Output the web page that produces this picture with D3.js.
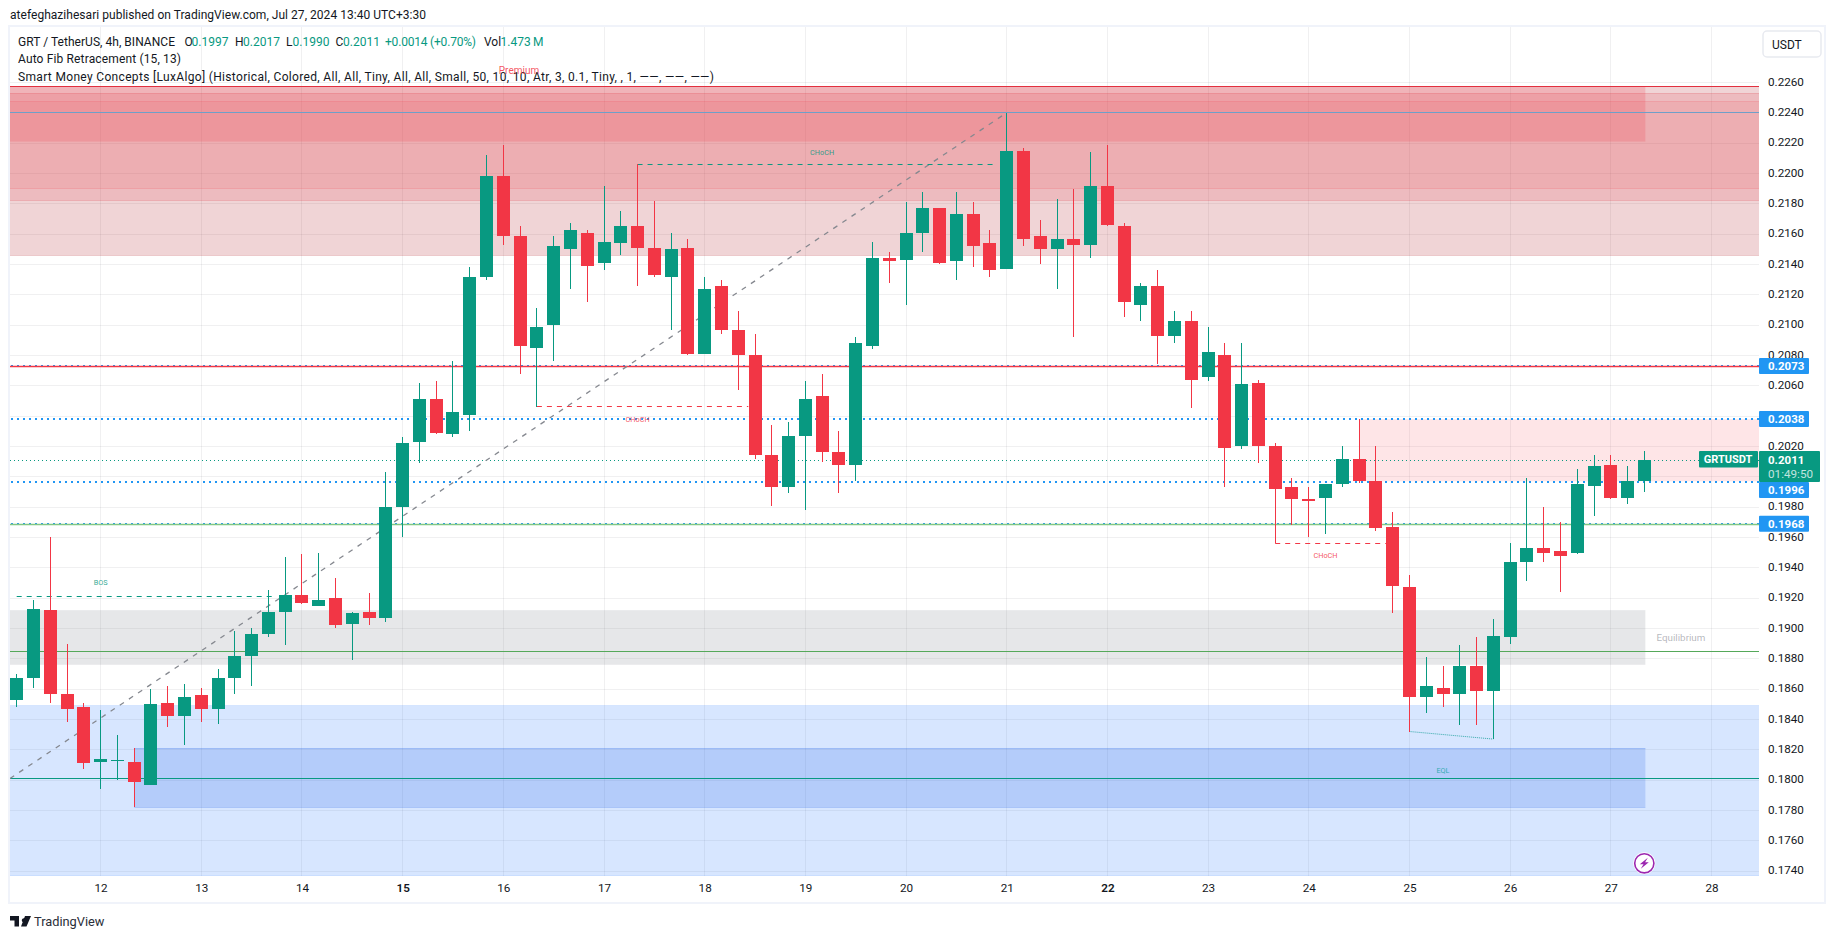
<!DOCTYPE html>
<html>
<head>
<meta charset="utf-8">
<script src="https://cdn.jsdelivr.net/npm/d3@7"></script>
<style>
  html, body { margin: 0; padding: 0; background: #fff; overflow: hidden; }
  text { font-family: Roboto, sans-serif; fill: #131722; }
  .axis-text text { font-size: 11.7px; }
  .legend { font-size: 12px; }
  .smc { font-size: 7px; }
  .tag { font-size: 11.5px; font-weight: 700; fill: #fff; }
</style>
</head>
<body>
<svg id="chart" width="1835" height="939"></svg>
<script>
// candles, 4h, index 0 is the first visible bar on the left
var opens = [0.1853,0.1867,0.1912,0.1857,0.1848,0.1812,0.1813,0.1812,0.1797,0.1851,0.1842,0.1856,0.1847,0.1867,0.1882,0.1896,0.1911,0.1922,0.1915,0.1920,0.1903,0.1911,0.1907,0.1980,
  0.2023,0.2051,0.2028,0.2041,0.2132,0.2198,0.2159,0.2085,0.2100,0.2150,0.2161,0.2141,0.2154,0.2165,0.2151,0.2132,0.2151,0.2081,0.2126,0.2097,0.2080,0.2014,0.1993,0.2027,0.2053,0.2016,0.2008,
  0.2086,0.2144,0.2143,0.2161,0.2177,0.2142,0.2173,0.2154,0.2137,0.2215,0.2159,0.2150,0.2157,0.2153,0.2192,0.2165,0.2113,0.2126,0.2093,0.2103,0.2066,0.2080,0.2020,0.2062,0.2020,
  0.1993,0.1985,0.1986,0.1995,0.2012,0.1997,0.1967,0.1927,0.1855,0.1861,0.1857,0.1875,0.1859,0.1894,0.1944,0.1953,0.1951,0.1950,0.1994,0.2008,0.1986,0.1997];
var closes = [0.1867,0.1913,0.1857,0.1847,0.1811,0.1814,0.1813,0.1799,0.1850,0.1842,0.1855,0.1847,0.1867,0.1882,0.1896,0.1911,0.1922,0.1917,0.1919,0.1902,0.1910,0.1907,0.1980,0.2022,
  0.2051,0.2029,0.2043,0.2132,0.2198,0.2159,0.2086,0.2099,0.2152,0.2163,0.2139,0.2155,0.2165,0.2151,0.2133,0.2150,0.2081,0.2124,0.2097,0.2080,0.2014,0.1993,0.2027,0.2051,0.2016,0.2008,0.2088,
  0.2144,0.2142,0.2161,0.2177,0.2141,0.2173,0.2152,0.2136,0.2215,0.2157,0.2150,0.2157,0.2153,0.2192,0.2166,0.2115,0.2126,0.2093,0.2103,0.2064,0.2082,0.2019,0.2061,0.2020,0.1992,
  0.1985,0.1984,0.1995,0.2012,0.1997,0.1966,0.1928,0.1855,0.1862,0.1857,0.1875,0.1859,0.1895,0.1944,0.1953,0.1950,0.1948,0.1995,0.2007,0.1986,0.1997,0.2011];
var highs = [0.1870,0.1919,0.1960,0.1890,0.1851,0.1846,0.1830,0.1821,0.1860,0.1862,0.1863,0.1861,0.1873,0.1898,0.1900,0.1925,0.1947,0.1949,0.1950,0.1933,0.1911,0.1923,0.2003,0.2026,
  0.2062,0.2063,0.2076,0.2138,0.2212,0.2219,0.2165,0.2111,0.2159,0.2167,0.2163,0.2192,0.2175,0.2206,0.2182,0.2161,0.2157,0.2132,0.2130,0.2109,0.2094,0.2034,0.2036,0.2063,0.2068,0.2030,0.2092,
  0.2155,0.2148,0.2181,0.2188,0.2177,0.2188,0.2181,0.2163,0.2240,0.2217,0.2169,0.2183,0.2190,0.2214,0.2219,0.2167,0.2128,0.2136,0.2109,0.2109,0.2099,0.2088,0.2088,0.2064,0.2022,
  0.1999,0.1993,0.1995,0.2020,0.2038,0.2020,0.1977,0.1935,0.1881,0.1875,0.1889,0.1894,0.1906,0.1956,0.1999,0.1980,0.1970,0.2005,0.2014,0.2014,0.2007,0.2017];
var lows = [0.1848,0.1861,0.1851,0.1838,0.1807,0.1794,0.1800,0.1782,0.1797,0.1835,0.1823,0.1838,0.1837,0.1857,0.1862,0.1894,0.1889,0.1916,0.1915,0.1900,0.1879,0.1902,0.1904,0.1960,
  0.2009,0.2028,0.2026,0.2030,0.2130,0.2153,0.2068,0.2046,0.2076,0.2124,0.2115,0.2136,0.2146,0.2126,0.2132,0.2097,0.2080,0.2081,0.2094,0.2057,0.2012,0.1981,0.1989,0.1978,0.2010,0.1989,0.1997,
  0.2084,0.2128,0.2113,0.2148,0.2140,0.2130,0.2138,0.2132,0.2137,0.2152,0.2140,0.2124,0.2092,0.2144,0.2165,0.2105,0.2103,0.2074,0.2088,0.2045,0.2063,0.1993,0.2018,0.2009,0.1956,
  0.1968,0.1960,0.1962,0.1993,0.1996,0.1964,0.1910,0.1832,0.1844,0.1848,0.1836,0.1836,0.1827,0.1890,0.1931,0.1944,0.1924,0.1949,0.1974,0.1985,0.1982,0.1990];

var dayIndex = [5,11,17,23,29,35,41,47,53,59,65,71,77,83,89,95,101];
var dayLabels = ['12','13','14','15','16','17','18','19','20','21','22','23','24','25','26','27','28'];
var boldDays = ['15','22'];
var priceTicks = d3.range(0,27).map(function(i) { return +(0.174 + i*0.002).toFixed(3); });

// [low, high] of the SMC zones
var premiumOuter = [0.2146,0.2257];
var premiumMid = [0.2182,0.2253];
var premiumInner = [0.2190,0.22475];
var premiumTop = [0.2221,0.2257];
var equilibrium = [0.1876,0.1912];
var discountOuter = [0.1737,0.1849];
var discountInner = [0.1782,0.1821];
var supplyBox = [0.1997,0.2038];

var zoneEnd = 97.06;       // bar where the shorter boxes stop
var deepBlueStart = 7;
var supplyStart = 80;

var levelsBlue = [0.2073,0.2038,0.19965,0.1969];
var levelLabels = ['0.2073','0.2038','0.1996','0.1968'];
var fibTop = 0.2257, fibBlue = 0.2240, fibRed = 0.20728, fibLightGreen = 0.19685, fibGreen = 0.1885, fibTeal = 0.1801;
var lastPrice = 0.2011;
var trendIdx = [-0.4,59], trendPrice = [0.1801,0.2240];

// [start bar, end bar, price]
var bosLine = [0,15.3,0.1921];
var chochUp = [37,58.2,0.2206];
var chochDown1 = [31,43.6,0.20464];
var chochDown2 = [75,81.6,0.1956];
var eqlIdx = [83,88], eqlPrice = [0.1832,0.1827];

var green = '#089981', red = '#f23645', blue = '#2196f3';
var left = 10, right = 1759, top_ = 27, bottom = 876;

var x = d3.scaleLinear().domain([0,95]).range([16.7,16.7+95*16.78]);
var y = d3.scaleLinear().domain([0.176,0.226]).range([840.7,82.4]);

// one pixel lines sit on the pixel grid
function snap(v) { return Math.floor(v)+0.5; }

var svg = d3.select('#chart');

svg.append('defs').append('clipPath').attr('id','plot')
  .append('rect').attr('x',left).attr('y',top_).attr('width',right-left).attr('height',bottom-top_);

// frame around the chart
svg.append('rect')
  .attr('x',9).attr('y',26).attr('width',1816).attr('height',877)
  .attr('fill','none').attr('stroke','#f0f3fa').attr('stroke-width',2);

var plot = svg.append('g').attr('clip-path','url(#plot)');

//grid
plot.append('g').selectAll('line').data(priceTicks).join('line')
  .attr('x1',left).attr('x2',right)
  .attr('y1',function(d) { return snap(y(d)); })
  .attr('y2',function(d) { return snap(y(d)); })
  .attr('stroke','#2a2e39').attr('stroke-opacity',0.07);
plot.append('g').selectAll('line').data(dayIndex).join('line')
  .attr('y1',top_).attr('y2',bottom)
  .attr('x1',function(d) { return snap(x(d)); })
  .attr('x2',function(d) { return snap(x(d)); })
  .attr('stroke','#2a2e39').attr('stroke-opacity',0.07);

//zones
function zone(range, from, to, color, alpha, edge) {
  plot.append('rect')
    .attr('x',x(from)).attr('width',x(to)-x(from))
    .attr('y',y(range[1])).attr('height',y(range[0])-y(range[1]))
    .attr('fill',color).attr('fill-opacity',alpha);
  if (edge) {
    [range[0],range[1]].forEach(function(v) {
      plot.append('line')
        .attr('x1',x(from)).attr('x2',x(to))
        .attr('y1',snap(y(v))).attr('y2',snap(y(v)))
        .attr('stroke',color).attr('stroke-opacity',edge);
    });
  }
}
zone(premiumOuter,-2,120,'#b22833',0.2,0.2);
zone(premiumMid,-2,120,'#e02c3c',0.15,0.15);
zone(premiumInner,-2,120,red,0.1,0.15);
zone(premiumTop,-2,zoneEnd,red,0.2,0);
zone(equilibrium,-2,zoneEnd,'#808590',0.2,0);
zone(discountOuter,-2,120,'#2979ff',0.19,0.15);
zone(discountInner,deepBlueStart,zoneEnd,'#2763e6',0.2,0.2);
zone(supplyBox,supplyStart,120,'#f7525f',0.15,0);

//blue levels
plot.append('g').attr('shape-rendering','crispEdges').selectAll('line').data(levelsBlue).join('line')
  .attr('x1',left+1).attr('x2',right)
  .attr('y1',function(d) { return Math.round(y(d)); })
  .attr('y2',function(d) { return Math.round(y(d)); })
  .attr('stroke',blue).attr('stroke-width',2).attr('stroke-dasharray','2,4');

//fib lines
function hline(price, color, w) {
  plot.append('line')
    .attr('x1',left).attr('x2',right)
    .attr('y1',snap(y(price))).attr('y2',snap(y(price)))
    .attr('stroke',color).attr('stroke-width',w || 1);
}
hline(fibTop,'#e2303f');
hline(fibBlue,'#6f9fc8');
hline(fibRed,red,1.6);
hline(fibLightGreen,'#81c784',1.4);
hline(fibGreen,'#55a85a');
hline(fibTeal,green);

//close price line
plot.append('line')
  .attr('x1',left).attr('x2',right)
  .attr('y1',snap(y(lastPrice))).attr('y2',snap(y(lastPrice)))
  .attr('stroke',green).attr('stroke-dasharray','1,3');

//trend line of the fib
plot.append('line')
  .attr('x1',x(trendIdx[0])).attr('y1',y(trendPrice[0]))
  .attr('x2',x(trendIdx[1])).attr('y2',y(trendPrice[1]))
  .attr('stroke','#85888f').attr('stroke-width',1.3).attr('stroke-dasharray','5,6');

//structure lines
function structure(seg, color) {
  plot.append('line')
    .attr('x1',x(seg[0])).attr('x2',x(seg[1]))
    .attr('y1',snap(y(seg[2]))).attr('y2',snap(y(seg[2])))
    .attr('stroke',color).attr('stroke-width',1).attr('stroke-dasharray','5,5');
}
structure(bosLine,green);
structure(chochUp,green);
structure(chochDown1,red);
structure(chochDown2,red);
plot.append('line')
  .attr('x1',x(eqlIdx[0])).attr('y1',y(eqlPrice[0]))
  .attr('x2',x(eqlIdx[1])).attr('y2',y(eqlPrice[1]))
  .attr('stroke','#33a9a9').attr('stroke-width',1).attr('stroke-dasharray','1,1');

//candles
var bars = d3.range(opens.length);
var candles = plot.append('g').attr('shape-rendering','crispEdges');
candles.selectAll('.wick').data(bars).join('rect')
  .attr('class','wick')
  .attr('x',function(i) { return Math.round(x(i)-0.5); })
  .attr('width',1)
  .attr('y',function(i) { return Math.round(y(highs[i])); })
  .attr('height',function(i) { return Math.round(y(lows[i]))-Math.round(y(highs[i])); })
  .attr('fill',function(i) { return closes[i]>=opens[i] ? green : red; });
candles.selectAll('.body').data(bars).join('rect')
  .attr('class','body')
  .attr('x',function(i) { return Math.round(x(i)-6.5); })
  .attr('width',13)
  .attr('y',function(i) { return Math.round(y(Math.max(opens[i],closes[i]))); })
  .attr('height',function(i) { return Math.max(1,Math.round(y(Math.min(opens[i],closes[i])))-Math.round(y(Math.max(opens[i],closes[i])))); })
  .attr('fill',function(i) { return closes[i]>=opens[i] ? green : red; });

//smc labels
function smcLabel(txt, bar, price, color, size, alpha) {
  plot.append('text')
    .attr('class','smc')
    .attr('x',x(bar)).attr('y',y(price))
    .attr('text-anchor','middle').attr('dominant-baseline','central')
    .style('font-size',(size || 7.3)+'px')
    .style('fill',color).style('fill-opacity',alpha || 0.85)
    .text(txt);
}
smcLabel('BOS',5,0.1930,green);
smcLabel('CHoCH',48,0.2214,green);
smcLabel('CHoCH',37,0.2038,red);
smcLabel('CHoCH',78,0.1948,red);
smcLabel('EQL',85,0.1806,'#1aa5a5');
smcLabel('Equilibrium',99.18,0.18939,'#787b86',9.8,0.55);

//axes
var yAxis = d3.axisRight(y).tickValues(priceTicks).tickSize(0).tickPadding(0)
  .tickFormat(function(d) { return d.toFixed(4); });
svg.append('g').attr('class','axis-text').attr('transform','translate(1768,-1)').call(yAxis)
  .call(function(g) { g.select('.domain').remove(); });

var xAxis = d3.axisBottom(x).tickValues(dayIndex).tickSize(0).tickPadding(0)
  .tickFormat(function(d,i) { return dayLabels[i]; });
svg.append('g').attr('class','axis-text').attr('transform','translate(0,884)').call(xAxis)
  .call(function(g) { g.select('.domain').remove(); })
  .selectAll('text').style('font-weight',function(d,i) { return boldDays.indexOf(dayLabels[i])>=0 ? 600 : 400; });

//price tags on the scale
function tag(yc, color, label) {
  svg.append('rect').attr('x',right).attr('y',yc-8).attr('width',50).attr('height',16).attr('rx',1).attr('fill',color);
  svg.append('text').attr('class','tag')
    .attr('x',right+9).attr('y',yc).attr('dominant-baseline','central')
    .text(label);
}
levelsBlue.forEach(function(v,i) {
  // 0.1996 is pushed down by the last price tag
  var yc = i===2 ? y(v)+8 : y(v);
  tag(yc,blue,levelLabels[i]);
});

svg.append('rect').attr('x',1699).attr('y',451).attr('width',59).attr('height',16.5).attr('rx',1).attr('fill',green);
svg.append('text').attr('class','tag').attr('x',1728).attr('y',459.5)
  .attr('text-anchor','middle').attr('dominant-baseline','central').style('font-size','11px').text('GRTUSDT');
svg.append('rect').attr('x',right).attr('y',451).attr('width',61).attr('height',31).attr('rx',1).attr('fill',green);
svg.append('text').attr('class','tag').attr('x',right+9).attr('y',459.5)
  .attr('dominant-baseline','central').text(lastPrice.toFixed(4));
svg.append('text').attr('x',right+9).attr('y',474)
  .attr('dominant-baseline','central').style('font-size','11.7px').style('fill','#fff').style('fill-opacity',0.75)
  .text('01:49:50');

//USDT button
svg.append('rect').attr('x',1763).attr('y',31).attr('width',58).attr('height',26).attr('rx',4)
  .attr('fill','#fff').attr('stroke','#e8eaf0').attr('stroke-width',1.5);
svg.append('text').attr('x',1772).attr('y',44.5).attr('dominant-baseline','central')
  .style('font-size','12px').text('USDT');

//header and legend
svg.append('text').attr('x',10).attr('y',15).attr('dominant-baseline','central')
  .attr('textLength',416)
  .style('font-size','12px')
  .text('atefeghazihesari published on TradingView.com, Jul 27, 2024 13:40 UTC+3:30');

function legend(txt, xp, yp, color, len) {
  var t = svg.append('text').attr('class','legend').attr('x',xp).attr('y',yp)
    .attr('dominant-baseline','central').style('fill',color || '#131722').text(txt);
  if (len) t.attr('textLength',len);
}
legend('GRT / TetherUS, 4h, BINANCE',18,41.5,null,157);
legend('O',184.5,41.5); legend('0.1997',191.5,41.5,green);
legend('H',235,41.5); legend('0.2017',243,41.5,green);
legend('L',286,41.5); legend('0.1990',292.5,41.5,green);
legend('C',335.5,41.5); legend('0.2011',343,41.5,green);
legend('+0.0014 (+0.70%)',385,41.5,green,91);
legend('Vol',484,41.5); legend('1.473\u2009M',500.5,41.5,green);
legend('Auto Fib Retracement (15, 13)',18,59,null,163);
legend('Smart Money Concepts [LuxAlgo] (Historical, Colored, All, All, Tiny, All, All, Small, 50, 10, 10, Atr, 3, 0.1, Tiny, , 1, \u2014\u2014, \u2014\u2014, \u2014\u2014)',18,76.5,null,696);

// Premium sits on the legend, drawn after it
svg.append('text').attr('x',519).attr('y',70.5).attr('text-anchor','middle').attr('dominant-baseline','central')
  .style('font-size','10px').style('fill',red).style('fill-opacity',0.85).text('Premium');

//lightning badge
var badge = svg.append('g').attr('transform','translate(1644.3,863.3)');
badge.append('circle').attr('r',11).attr('fill','#fff');
badge.append('circle').attr('r',9.6).attr('fill','#fff').attr('stroke','#9c27b0').attr('stroke-width',1.6);
badge.append('path').attr('d','M3.5,-5.5 L-4.5,1 L-0.8,1 L-3.5,5.5 L4.5,-1 L0.8,-1 Z').attr('fill','#9c27b0');

//TradingView logo
svg.append('path')
  .attr('d','M10,916 H19 V926.5 H14.5 V920.5 H10 Z M24,918.2 a2.2,2.2 0 1,1 -0.01,0 Z M25,916 H31 L26.5,926.5 H21 Z')
  .attr('fill','#131722');
svg.append('text').attr('x',34).attr('y',921.5).attr('dominant-baseline','central')
  .style('font-size','12.8px').style('fill','#2a2e39').text('TradingView');
</script>
</body>
</html>
